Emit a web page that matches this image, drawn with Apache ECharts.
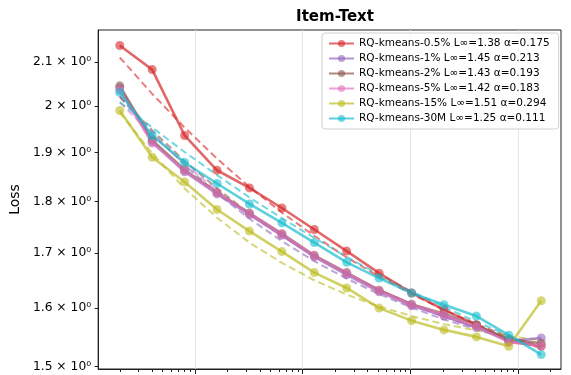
<!DOCTYPE html>
<html>
<head>
<meta charset="utf-8">
<script src="https://cdn.jsdelivr.net/npm/echarts@6/dist/echarts.min.js"></script>
<style>
  html, body { margin: 0; background: #fff; }
  #lossChart { width: 571px; height: 375px; }
</style>
</head>
<body>
<div id="lossChart"></div>
<script>
// x positions (log axis), each point doubles the previous one
var steps = [0.2, 0.4, 0.8, 1.6, 3.2, 6.4, 12.8, 25.6, 51.2, 102.4, 204.8, 409.6, 819.2, 1638.4];

// measured loss per run
var loss05 = [2.138, 2.082, 1.936, 1.863, 1.827, 1.787, 1.745, 1.704, 1.663, 1.627, 1.597, 1.571, 1.542, 1.534];
var loss1  = [2.040, 1.922, 1.860, 1.815, 1.774, 1.734, 1.693, 1.660, 1.629, 1.604, 1.586, 1.566, 1.543, 1.548];
var loss2  = [2.045, 1.926, 1.864, 1.818, 1.777, 1.737, 1.696, 1.664, 1.632, 1.607, 1.590, 1.570, 1.546, 1.539];
var loss5  = [2.035, 1.920, 1.862, 1.817, 1.776, 1.736, 1.695, 1.663, 1.631, 1.606, 1.588, 1.568, 1.541, 1.535];
var loss15 = [1.990, 1.890, 1.839, 1.784, 1.742, 1.703, 1.664, 1.636, 1.600, 1.578, 1.562, 1.550, 1.534, 1.613];
var loss30M = [2.030, 1.936, 1.879, 1.836, 1.795, 1.758, 1.720, 1.683, 1.654, 1.627, 1.606, 1.586, 1.553, 1.520];

// dashed fitted curves
var fit05 = [2.110, 2.027, 1.953, 1.887, 1.829, 1.778, 1.733, 1.692, 1.657, 1.625, 1.597, 1.572, 1.550, 1.531];
var fit1  = [2.020, 1.942, 1.874, 1.816, 1.766, 1.723, 1.685, 1.653, 1.625, 1.601, 1.580, 1.563, 1.547, 1.534];
var fit2  = [2.021, 1.947, 1.882, 1.826, 1.776, 1.733, 1.695, 1.662, 1.633, 1.607, 1.585, 1.566, 1.549, 1.534];
var fit5  = [2.008, 1.938, 1.876, 1.822, 1.774, 1.732, 1.695, 1.662, 1.633, 1.608, 1.585, 1.566, 1.548, 1.533];
var fit15 = [1.986, 1.898, 1.826, 1.768, 1.720, 1.682, 1.650, 1.624, 1.603, 1.586, 1.572, 1.561, 1.551, 1.544];
var fit30M = [2.009, 1.953, 1.901, 1.853, 1.808, 1.767, 1.729, 1.693, 1.660, 1.630, 1.602, 1.576, 1.552, 1.529];

var runNames = [
  'RQ-kmeans-0.5% L∞=1.38 α=0.175',
  'RQ-kmeans-1% L∞=1.45 α=0.213',
  'RQ-kmeans-2% L∞=1.43 α=0.193',
  'RQ-kmeans-5% L∞=1.42 α=0.183',
  'RQ-kmeans-15% L∞=1.51 α=0.294',
  'RQ-kmeans-30M L∞=1.25 α=0.111'
];
var runColors = ['#d62728', '#9467bd', '#8c564b', '#e377c2', '#bcbd22', '#17becf'];
var runLoss = [loss05, loss1, loss2, loss5, loss15, loss30M];
var runFit = [fit05, fit1, fit2, fit5, fit15, fit30M];

// tick positions
var yTicks = [1.5, 1.6, 1.7, 1.8, 1.9, 2.0, 2.1];
var xMajor = [1, 10, 100, 1000];
var xMinor = [0.2, 0.3, 0.4, 0.5, 0.6, 0.7, 0.8, 0.9,
              2, 3, 4, 5, 6, 7, 8, 9,
              20, 30, 40, 50, 60, 70, 80, 90,
              200, 300, 400, 500, 600, 700, 800, 900, 2000];

function pairs(ys) {
  return steps.map(function (x, i) { return [x, ys[i]]; });
}

var series = [];
runNames.forEach(function (name, i) {
  series.push({
    name: name,
    type: 'line',
    data: pairs(runLoss[i]),
    symbol: 'circle',
    symbolSize: 9,
    color: runColors[i],
    lineStyle: { width: 2.6, opacity: 0.7 },
    itemStyle: { opacity: 0.6 },
    emphasis: { disabled: true },
    z: 3
  });
  series.push({
    name: name + ' fit',
    type: 'line',
    data: pairs(runFit[i]),
    showSymbol: false,
    symbol: 'none',
    color: runColors[i],
    lineStyle: { width: 2, type: [7, 4], opacity: 0.6 },
    emphasis: { disabled: true },
    z: 2
  });
});

var chart = echarts.init(document.getElementById('lossChart'));
chart.setOption({
  animation: false,
  textStyle: { fontFamily: 'DejaVu Sans' },
  title: {
    text: 'Item-Text',
    left: 330,
    textAlign: 'center',
    top: 5,
    textStyle: { fontSize: 15, fontWeight: 'bold', color: '#000', fontFamily: 'DejaVu Sans' }
  },
  legend: {
    data: runNames,
    orient: 'vertical',
    left: 322,
    top: 33,
    padding: [4, 9, 4, 6],
    itemWidth: 25,
    itemHeight: 9,
    itemGap: 2,
    backgroundColor: 'rgba(255,255,255,0.8)',
    borderColor: '#d0d0d0',
    borderWidth: 1,
    borderRadius: 3,
    textStyle: { fontSize: 10.5, color: '#000', fontFamily: 'DejaVu Sans', lineHeight: 13 }
  },
  grid: {
    left: 98, right: 10, top: 30, bottom: 6,
    show: true,
    borderColor: '#222',
    borderWidth: 1
  },
  xAxis: [{
    type: 'log',
    logBase: 10,
    min: 0.126,
    max: 2500,
    axisLine: { lineStyle: { color: '#222', width: 1 } },
    axisTick: { customValues: xMajor, length: 5, lineStyle: { color: '#222' } },
    axisLabel: { show: false },
    splitLine: { show: true, lineStyle: { color: '#e4e4e4', width: 1 } }
  }, {
    type: 'log',
    logBase: 10,
    min: 0.126,
    max: 2500,
    position: 'bottom',
    axisLine: { show: false },
    axisTick: { customValues: xMinor, length: 3, lineStyle: { color: '#222' } },
    axisLabel: { show: false },
    splitLine: { show: false }
  }],
  yAxis: {
    type: 'log',
    logBase: 10,
    min: 1.496,
    max: 2.175,
    name: 'Loss',
    nameLocation: 'middle',
    nameGap: 75,
    nameTextStyle: { fontSize: 14, color: '#000', fontFamily: 'DejaVu Sans' },
    axisLine: { show: true, lineStyle: { color: '#222', width: 1 } },
    axisTick: { customValues: yTicks, length: 3.5, lineStyle: { color: '#222' } },
    axisLabel: {
      customValues: yTicks,
      fontSize: 12.3,
      color: '#000',
      margin: 7,
      formatter: function (v) { return (+v.toFixed(1)) + ' × 10⁰'; }
    },
    splitLine: { show: false }
  },
  series: series
});
</script>
</body>
</html>
